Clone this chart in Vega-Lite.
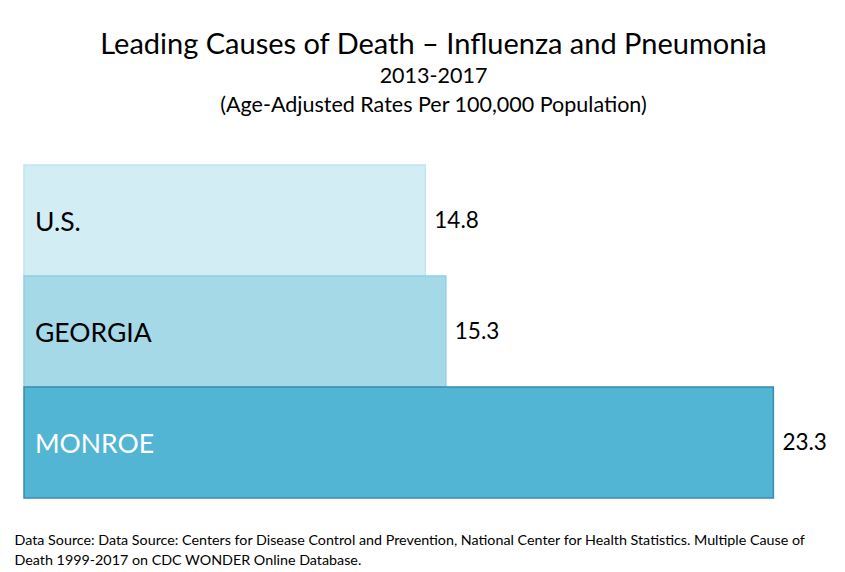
{
  "$schema": "https://vega.github.io/schema/vega-lite/v6.json",
  "autosize": "none",
  "padding": {"left": 24, "top": 165, "right": 2, "bottom": 74},
  "width": 819,
  "height": 333,
  "background": "white",
  "config": {"view": {"stroke": null}, "font": "Lato"},
  "title": {
    "text": "Leading Causes of Death – Influenza and Pneumonia",
    "subtitle": ["2013-2017", "(Age-Adjusted Rates Per 100,000 Population)"],
    "anchor": "middle",
    "font": "Lato",
    "fontSize": 29,
    "fontWeight": "normal",
    "color": "black",
    "subtitleFont": "Lato",
    "subtitleFontSize": 21.5,
    "subtitleColor": "black",
    "subtitleLineHeight": 29,
    "subtitlePadding": 6,
    "offset": 48
  },
  "data": {
    "values": [
      {"place": "U.S.", "rate": 14.8},
      {"place": "GEORGIA", "rate": 15.3},
      {"place": "MONROE", "rate": 23.3}
    ]
  },
  "encoding": {
    "y": {"field": "place", "type": "nominal", "sort": ["U.S.", "GEORGIA", "MONROE"],
          "scale": {"paddingInner": 0.0, "paddingOuter": 0}, "axis": null}
  },
  "layer": [
    {
      "mark": {"type": "bar", "strokeWidth": 1.5},
      "encoding": {
        "x": {"field": "rate", "type": "quantitative", "scale": {"domain": [5, 25], "zero": false, "nice": false},
              "axis": {"domain": false, "ticks": false, "labels": false, "grid": false,
                       "title": ["Data Source:  Data Source: Centers for Disease Control and Prevention, National Center for Health Statistics.  Multiple Cause of", "Death 1999-2017 on CDC WONDER Online Database."],
                       "titleAnchor": "start", "titleAlign": "left", "titleX": -10, "titleY": 46,
                       "titleFont": "Lato", "titleFontSize": 14.3, "titleFontWeight": "normal",
                       "titleColor": "black", "titleLineHeight": 20, "titleBaseline": "alphabetic"}},
        "x2": {"datum": 5},
        "fill": {"field": "place", "type": "nominal",
                 "scale": {"domain": ["U.S.", "GEORGIA", "MONROE"], "range": ["#d3edf5", "#a5d9e8", "#52b5d4"]},
                 "legend": null},
        "stroke": {"field": "place", "type": "nominal",
                   "scale": {"domain": ["U.S.", "GEORGIA", "MONROE"], "range": ["#c2e4ee", "#8fcfe2", "#3a8cad"]},
                   "legend": null}
      }
    },
    {
      "mark": {"type": "text", "align": "left", "baseline": "middle", "dx": 11, "dy": 2, "fontSize": 26.5, "font": "Lato"},
      "encoding": {
        "x": {"datum": 5},
        "text": {"field": "place"},
        "color": {"field": "place", "type": "nominal",
                  "scale": {"domain": ["U.S.", "GEORGIA", "MONROE"], "range": ["black", "black", "white"]},
                  "legend": null}
      }
    },
    {
      "mark": {"type": "text", "align": "left", "baseline": "middle", "dx": 9, "fontSize": 22.5, "font": "Lato", "color": "black"},
      "encoding": {
        "x": {"field": "rate", "type": "quantitative"},
        "text": {"field": "rate", "type": "quantitative", "format": ".1f"}
      }
    }
  ]
}
